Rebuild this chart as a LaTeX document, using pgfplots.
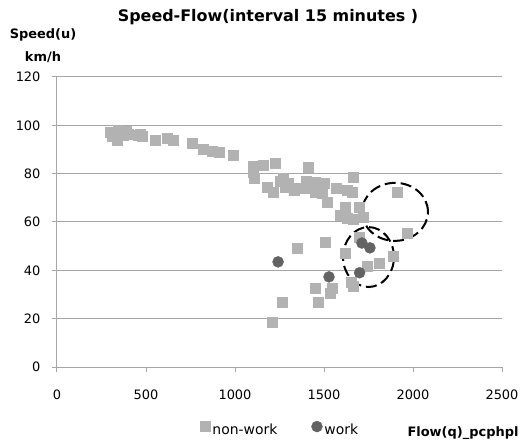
\documentclass[border=0pt]{standalone}
\usepackage{fontspec}
\setmainfont{DejaVu Sans}
\usepackage{pgfplots}
\pgfplotsset{compat=1.18}

\definecolor{nonwork}{HTML}{B2B2B2}
\definecolor{workc}{HTML}{636363}
\definecolor{gridc}{HTML}{A6A6A6}

\begin{document}
\begin{tikzpicture}
\begin{axis}[
  scale only axis,
  width=445bp, height=290bp,
  xmin=0, xmax=2500, ymin=0, ymax=120,
  xtick={0,500,...,2500}, ytick={0,20,...,120},
  axis x line*=bottom, axis y line*=left,
  axis line style={gridc, line width=1bp, -},
  tick style={gridc, line width=1bp},
  tick align=outside, major tick length=5bp,
  ymajorgrids, grid style={gridc, line width=1bp},
  ticklabel style={font=\fontsize{13}{14}\selectfont},
  /pgf/number format/assume math mode=true,
  /pgf/number format/1000 sep={},
  xticklabel style={yshift=-14bp},
  yticklabel style={xshift=-8bp},
  legend columns=2,
  legend style={draw=none, fill=none, at={(axis description cs:0.322,-0.215)}, anchor=west,
    font=\fontsize{14}{15}\selectfont, inner sep=0pt,
    /tikz/every even column/.append style={column sep=32bp}},
  legend image post style={yshift=3bp},
]
\addplot[only marks, mark=square*, mark size=5bp, draw=nonwork, fill=nonwork] coordinates {
(300,97) (310,95.5) (330,96.5) (340,94) (345,98) (360,97) (370,96) (390,97.5) (400,96.5)
(455,96) (470,96.5) (480,95.5) (550,94) (620,94.5) (650,94) (760,92.5) (820,90) (870,89.5)
(910,89) (990,87.5)
(1100,83) (1100,80.5) (1110,78) (1160,83.5) (1225,84.5) (1180,74.5) (1215,72.5) (1255,77)
(1270,78) (1280,74.5) (1300,76) (1330,73.3) (1350,74) (1400,77) (1410,82.5) (1390,74)
(1450,76.5) (1450,72.5) (1500,76) (1490,72) (1520,68) (1570,74) (1630,73.3) (1660,72.5)
(1665,78.7) (1620,66.2) (1590,63) (1630,61.7) (1665,61) (1700,66.2) (1720,62) (1910,72.5)
(1970,55.5)
(1210,18.6) (1265,26.7) (1350,49) (1450,32.5) (1470,27) (1505,51.8) (1535,30.6) (1545,32.7)
(1620,47) (1655,35) (1665,33.5) (1700,53.8) (1745,41.8) (1810,43) (1890,46)
};
\addlegendentry{non-work}
\addplot[only marks, mark=*, mark size=5.5bp, draw=workc, fill=workc] coordinates {
(1242,43.5) (1528,37.3) (1700,39) (1713,51.3) (1758,49.3)
};
\addlegendentry{work}
\draw[black, line width=2bp, dash pattern=on 11bp off 5bp] (axis cs:1899,64.2) ellipse [x radius=185, y radius=12];
\draw[black, line width=2bp, dash pattern=on 11bp off 5bp] (axis cs:1750,45.5) ellipse [x radius=143, y radius=12.4];
\end{axis}
\node[font=\bfseries\fontsize{16}{17}\selectfont] at (211bp,350bp) {Speed-Flow(interval 15 minutes )};
\node[font=\bfseries\fontsize{13}{14}\selectfont] at (-14bp,332bp) {Speed(u)};
\node[font=\bfseries\fontsize{13}{14}\selectfont] at (-14bp,310bp) {km/h};
\node[font=\bfseries\fontsize{13}{14}\selectfont] at (406bp,-66bp) {Flow(q)\_pcphpl};
\pgfresetboundingbox
\path[use as bounding box] (-57bp,-79bp) rectangle (469bp,367bp);
\end{tikzpicture}
\end{document}
